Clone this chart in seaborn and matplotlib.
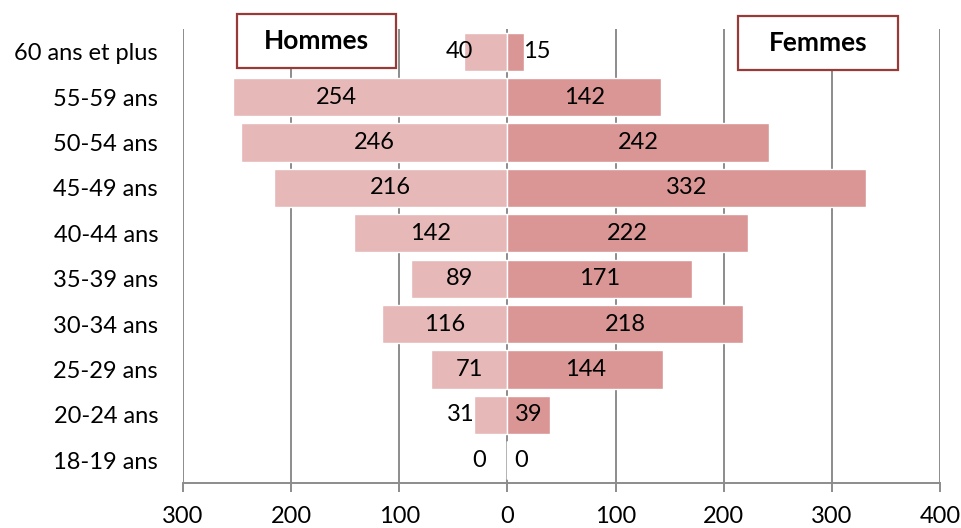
import matplotlib
matplotlib.use("Agg")
import matplotlib.pyplot as plt
import matplotlib.patches as mpatches
import seaborn as sns
import pandas as pd

# Age groups, top to bottom
age_groups = ["60 ans et plus", "55-59 ans", "50-54 ans", "45-49 ans", "40-44 ans",
              "35-39 ans", "30-34 ans", "25-29 ans", "20-24 ans", "18-19 ans"]
hommes = [40, 254, 246, 216, 142, 89, 116, 71, 31, 0]
femmes = [15, 142, 242, 332, 222, 171, 218, 144, 39, 0]

x_ticks = [-300, -200, -100, 0, 100, 200, 300, 400]
x_tick_labels = ["300", "200", "100", "0", "100", "200", "300", "400"]

sns.set_theme(style="white")
plt.rcParams["font.family"] = ["Lato", "DejaVu Sans"]

C_MEN = "#E6B8B7"
C_WOMEN = "#D99694"
GRID = "#8C8C8C"
BOX_EDGE = "#983A38"
FS = 17

df = pd.DataFrame({"age": age_groups,
                   "hommes": [-v for v in hommes],
                   "femmes": femmes})

fig = plt.figure(figsize=(9.62, 5.28), dpi=100)
ax = fig.add_axes([183 / 962, 1 - 483 / 528, (940 - 183) / 962, (483 - 29) / 528])

for xt in x_ticks:
    ax.axvline(xt, color=GRID, lw=1.4, zorder=0)

sns.barplot(data=df, y="age", x="hommes", orient="h", color=C_MEN,
            width=0.84, saturation=1, ax=ax, zorder=2)
sns.barplot(data=df, y="age", x="femmes", orient="h", color=C_WOMEN,
            width=0.84, saturation=1, ax=ax, zorder=2)

ax.set_xlim(-300, 400)
ax.set_ylim(len(age_groups) - 0.5, -0.5)
ax.set_xticks(x_ticks)
ax.set_xticklabels(x_tick_labels)
ax.set_xlabel("")
ax.set_ylabel("")

for side in ["top", "right", "left"]:
    ax.spines[side].set_visible(False)
ax.spines["bottom"].set_color(GRID)
ax.spines["bottom"].set_linewidth(1.4)
ax.tick_params(axis="x", direction="out", length=6.5, width=1.4, color=GRID,
               labelsize=FS, pad=10, bottom=True)
ax.tick_params(axis="y", length=0, labelsize=FS, pad=18)
for lab in ax.get_xticklabels() + ax.get_yticklabels():
    lab.set_color("black")

# Value labels: centred in the bar, or just outside when the bar is short
men_shift = {0: -44, 8: -43, 9: -26, 1: -158}
women_shift = {0: 27, 9: 13}
for i, (h, f) in enumerate(zip(hommes, femmes)):
    xm = men_shift.get(i, -h / 2)
    xf = women_shift.get(i, f / 2)
    ax.text(xm, i, str(h), ha="center", va="center", fontsize=FS, color="black", zorder=3)
    ax.text(xf, i, str(f), ha="center", va="center", fontsize=FS, color="black", zorder=3)

# Series title boxes
for (x0, y0, x1, y1, label) in [(237, 14, 396, 68, "Hommes"), (738, 16, 898, 70, "Femmes")]:
    rect = mpatches.Rectangle((x0 / 962, 1 - y1 / 528), (x1 - x0) / 962, (y1 - y0) / 528,
                              transform=fig.transFigure, facecolor="white",
                              edgecolor=BOX_EDGE, lw=1.6, zorder=5)
    fig.patches.append(rect)
    fig.text((x0 + x1) / 2 / 962, 1 - (y0 + y1) / 2 / 528, label, ha="center", va="center",
             fontsize=19, fontweight="bold", color="black", zorder=6)

fig.savefig("out.png", dpi=100)
